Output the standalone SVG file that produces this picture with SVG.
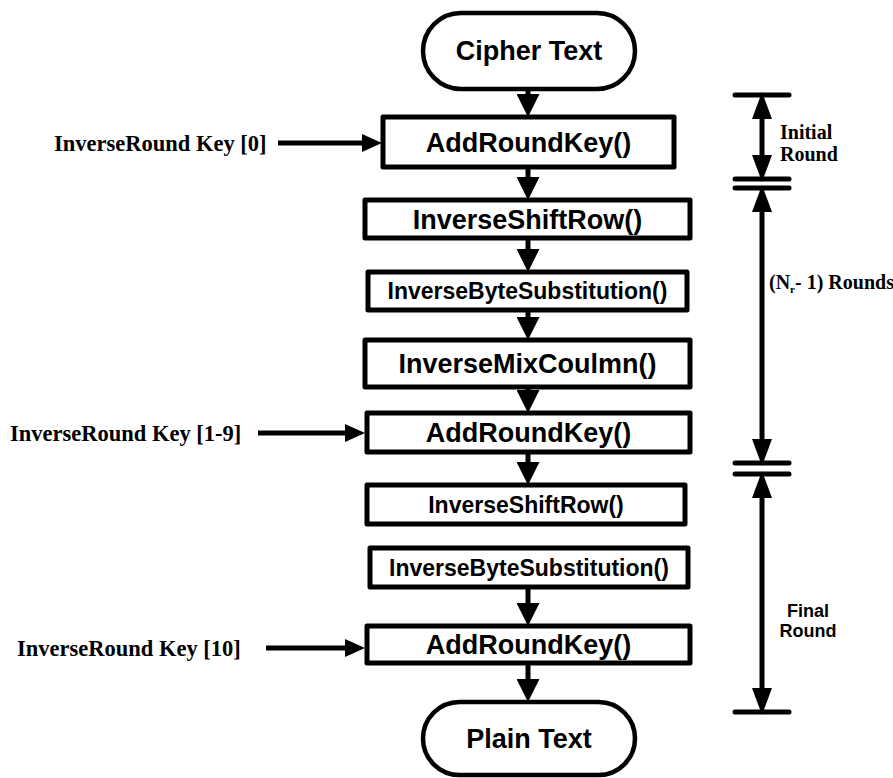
<svg xmlns="http://www.w3.org/2000/svg" width="893" height="778" viewBox="0 0 893 778">
<style>
.box{fill:#fff;stroke:#000;stroke-width:5;stroke-linejoin:round}
.term{fill:#fff;stroke:#000;stroke-width:4.5}
.big{font-family:"Liberation Sans",Arial,sans-serif;font-weight:bold;font-size:27px;text-anchor:middle;fill:#000}
.mid{font-family:"Liberation Sans",Arial,sans-serif;font-weight:bold;font-size:23px;text-anchor:middle;fill:#000}
.key{font-family:"Liberation Serif","Times New Roman",serif;font-weight:bold;font-size:22.5px;fill:#000}
.lab{font-family:"Liberation Serif","Times New Roman",serif;font-weight:bold;font-size:20px;fill:#000}
.labs{font-family:"Liberation Sans",Arial,sans-serif;font-weight:bold;font-size:18px;text-anchor:middle;fill:#000}
.flow{stroke:#000;stroke-width:5;fill:none}
.bar{stroke:#000;stroke-width:5;stroke-linecap:round}
</style>
<defs>
<marker id="m" markerUnits="userSpaceOnUse" viewBox="0 0 23 23" markerWidth="23" markerHeight="23" refX="13" refY="11.5" orient="auto"><path d="M0,0 L23,11.5 L0,23 z" fill="#000"/></marker>
<marker id="k" markerUnits="userSpaceOnUse" viewBox="0 0 20 18" markerWidth="20" markerHeight="18" refX="10" refY="9" orient="auto"><path d="M0,0 L20,9 L0,18 z" fill="#000"/></marker>
<marker id="r" markerUnits="userSpaceOnUse" viewBox="0 0 27 20" markerWidth="27" markerHeight="20" refX="12" refY="10" orient="auto-start-reverse"><path d="M0,0 L27,10 L0,20 z" fill="#000"/></marker>
</defs>

<g id="connectors">
<line class="flow" x1="528" y1="90" x2="528" y2="107" marker-end="url(#m)"/>
<line class="flow" x1="528" y1="167" x2="528" y2="190" marker-end="url(#m)"/>
<line class="flow" x1="528" y1="238" x2="528" y2="262" marker-end="url(#m)"/>
<line class="flow" x1="528" y1="310" x2="528" y2="330" marker-end="url(#m)"/>
<line class="flow" x1="528" y1="387" x2="528" y2="403" marker-end="url(#m)"/>
<line class="flow" x1="528" y1="452" x2="528" y2="475" marker-end="url(#m)"/>
<line class="flow" x1="528" y1="587" x2="528" y2="616" marker-end="url(#m)"/>
<line class="flow" x1="528" y1="663" x2="528" y2="692" marker-end="url(#m)"/>
<line class="flow" x1="278" y1="143" x2="372" y2="143" marker-end="url(#k)"/>
<line class="flow" x1="258" y1="433" x2="355" y2="433" marker-end="url(#k)"/>
<line class="flow" x1="266" y1="648" x2="355" y2="648" marker-end="url(#k)"/>
</g>

<g id="cipher-text">
<rect class="term" x="423" y="13" width="212" height="76" rx="38" ry="38"/>
<text class="big" x="529" y="60" font-size="28">Cipher Text</text>
</g>
<g id="add-round-key-1">
<rect class="box" x="383" y="117" width="291" height="50"/>
<text class="big" x="528.5" y="151.5">AddRoundKey()</text>
</g>
<g id="inverse-shift-row-1">
<rect class="box" x="365" y="200" width="325" height="38"/>
<text class="big" x="527.5" y="228.5">InverseShiftRow()</text>
</g>
<g id="inverse-byte-sub-1">
<rect class="box" x="368" y="272" width="319" height="38"/>
<text class="mid" x="527.5" y="299">InverseByteSubstitution()</text>
</g>
<g id="inverse-mix-column">
<rect class="box" x="365" y="340" width="325" height="47"/>
<text class="big" x="527.5" y="373">InverseMixCoulmn()</text>
</g>
<g id="add-round-key-2">
<rect class="box" x="367" y="413" width="323" height="39"/>
<text class="big" x="528.5" y="442">AddRoundKey()</text>
</g>
<g id="inverse-shift-row-2">
<rect class="box" x="367" y="485" width="318" height="39"/>
<text class="mid" x="526" y="512.5">InverseShiftRow()</text>
</g>
<g id="inverse-byte-sub-2">
<rect class="box" x="370" y="548" width="318" height="39"/>
<text class="mid" x="529" y="575.5">InverseByteSubstitution()</text>
</g>
<g id="add-round-key-3">
<rect class="box" x="367" y="626" width="323" height="37"/>
<text class="big" x="528.5" y="654">AddRoundKey()</text>
</g>
<g id="plain-text">
<rect class="term" x="423" y="702" width="212" height="73" rx="36.5" ry="36.5"/>
<text class="big" x="529" y="748" font-size="28">Plain Text</text>
</g>

<g id="key-labels">
<text class="key" x="54" y="150.5">InverseRound Key [0]</text>
<text class="key" x="10" y="440.5">InverseRound Key [1-9]</text>
<text class="key" x="17" y="655.5">InverseRound Key [10]</text>
</g>

<g id="round-brackets">
<line class="bar" x1="735" y1="95" x2="789" y2="95"/>
<line class="bar" x1="735" y1="179" x2="789" y2="179"/>
<line class="bar" x1="735" y1="188" x2="789" y2="188"/>
<line class="bar" x1="735" y1="463" x2="789" y2="463"/>
<line class="bar" x1="735" y1="474" x2="789" y2="474"/>
<line class="bar" x1="735" y1="712" x2="789" y2="712"/>
<line class="flow" x1="762" y1="107" x2="762" y2="167" marker-start="url(#r)" marker-end="url(#r)"/>
<line class="flow" x1="762" y1="200" x2="762" y2="451" marker-start="url(#r)" marker-end="url(#r)"/>
<line class="flow" x1="762" y1="486" x2="762" y2="700" marker-start="url(#r)" marker-end="url(#r)"/>
<text class="lab" x="780" y="139">Initial</text>
<text class="lab" x="780" y="161">Round</text>
<text class="lab" x="769" y="289" font-size="18.5">(N<tspan font-size="11" dy="4">r</tspan><tspan dy="-4">- 1) Rounds</tspan></text>
<text class="labs" x="808" y="617">Final</text>
<text class="labs" x="808" y="637">Round</text>
</g>
</svg>
